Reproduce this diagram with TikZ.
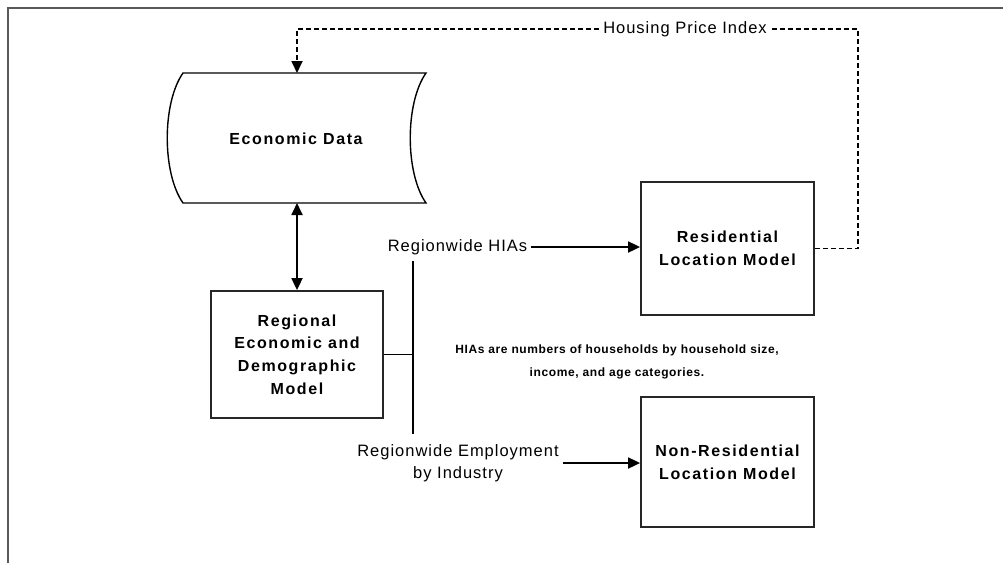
\documentclass[tikz,border=0pt]{standalone}
\usepackage{fontspec}
\setmainfont{Liberation Sans}
\usetikzlibrary{arrows.meta}
\newfontfamily\boxfont[LetterSpace=10]{Liberation Sans Bold}
\newfontfamily\lblfont[LetterSpace=6]{Liberation Sans}
\newfontfamily\notefont[LetterSpace=5]{Liberation Sans Bold}

\begin{document}
\begin{tikzpicture}[x=1pt,y=-1pt,
  modelbox/.style={draw=black!85,line width=1.8pt,minimum width=173pt,minimum height=130pt,
    inner sep=0pt,align=center,font=\boxfont\fontsize{16}{22.7}\selectfont},
  flowlabel/.style={align=center,font=\lblfont\fontsize{16.5}{22}\selectfont,inner sep=4pt},
  link/.style={line width=1.8pt,-{Triangle[length=12pt,width=11pt]}},
  both/.style={line width=1.8pt,{Triangle[length=12pt,width=11pt]}-{Triangle[length=12pt,width=11pt]}},
  feedback/.style={link,dash pattern=on 5pt off 3pt}]
\useasboundingbox (0,0) rectangle (1003,563);
\draw[black!65,line width=2pt] (8,563) -- (8,8) -- (1003,8);

\node[minimum width=243pt,minimum height=130pt,inner sep=0pt,outer sep=0pt] (econ) at (304.5,138) {};
\node[font=\boxfont\fontsize{16}{18}\selectfont] (econtxt) at (296,139) {Economic Data};
\node[modelbox,minimum width=172pt,minimum height=127pt] (regional) at (297,354.5) {Regional\\Economic and\\Demographic\\Model};
\node[modelbox,minimum height=133pt] (resid) at (727.5,248.5) {Residential\\Location Model};
\node[modelbox] (nonres) at (727.5,462) {Non-Residential\\Location Model};
\node[flowlabel] (hias) at (457.5,247) {Regionwide HIAs};
\node[flowlabel] (emp) at (458,463) {Regionwide Employment\\by Industry};
\node[flowlabel] (hpi) at (685,29) {Housing Price Index};
\node[align=center,font=\notefont\fontsize{12}{23}\selectfont] (note) at (617,361.5)
  {HIAs are numbers of households by household size,\\income, and age categories.};

\coordinate (hubtop) at (413,261);
\coordinate (hubbot) at (413,434);
\coordinate (hpicorner) at (858,29);

\draw[line width=1.4pt] (econ.north west) -- (econ.north east)
  .. controls +(-21,30) and +(-21,-30) .. (econ.south east) -- (econ.south west)
  .. controls +(-21,-30) and +(-21,30) .. (econ.north west) -- cycle;

\draw[line width=1.8pt] (hubtop) -- (hubbot);
\draw[line width=1.8pt] (regional.east) -- (regional.east -| hubtop);
\draw[link] (hias.east) -- (hias.east -| resid.west);
\draw[link] (emp.east) -- (emp.east -| nonres.west);
\draw[both] (regional.north |- econ.south) -- (regional.north);
\draw[feedback] (hpi.west) -- (hpi.west -| regional.north) -- (regional.north |- econ.north);
\draw[line width=1.8pt,dash pattern=on 5pt off 3pt] (resid.east) -| (hpicorner) -- (hpi.east);
\end{tikzpicture}
\end{document}
